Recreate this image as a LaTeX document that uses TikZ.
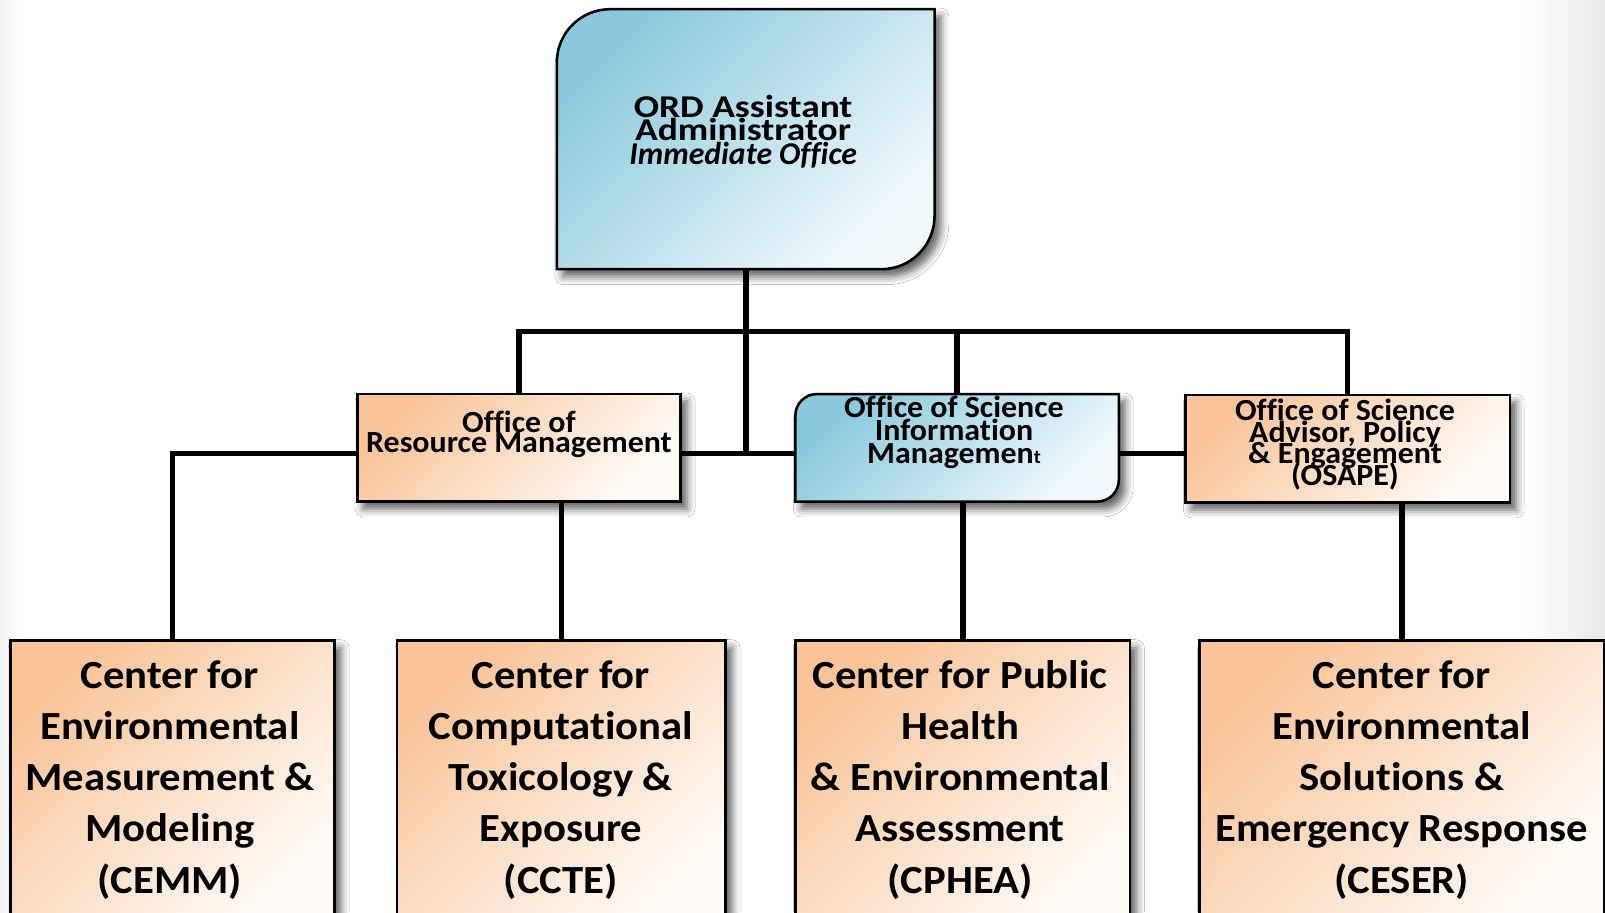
\documentclass[tikz,border=0pt]{standalone}
\usepackage{fontspec}
\setmainfont{Carlito}[Ligatures=NoCommon]
\newfontfamily\topfnt{Carlito}[FakeStretch=1.18,Ligatures=NoCommon]
\newfontfamily\midfnt{Carlito}[FakeStretch=1.04,Ligatures=NoCommon]
\newfontfamily\botfnt{Carlito}[FakeStretch=1.07,Ligatures=NoCommon]
\usetikzlibrary{shadows.blur,calc}
\definecolor{bluedark}{RGB}{138,201,221}
\definecolor{bluelight}{RGB}{242,249,252}
\definecolor{orgdark}{RGB}{249,196,153}
\definecolor{orglight}{RGB}{255,251,247}
\newcommand\firstrule{\rule{0pt}{40pt}}
\newcommand\diagroundbox[6]{%
  \path[#6] (#1,#2) -- (#1,#4-#5) arc[start angle=180,end angle=90,radius=#5 pt]
    -- (#3,#4) -- (#3,#2+#5) arc[start angle=0,end angle=-90,radius=#5 pt] -- cycle;}
\AtBeginDocument{\lineskiplimit=-100pt\relax}
\begin{document}
\begin{tikzpicture}[x=1pt,y=1pt,
  softshadow/.style={blur shadow={shadow xshift=6pt,shadow yshift=-7pt,shadow blur radius=8pt,shadow opacity=65}},
  bluefill/.style={draw=black,line width=2.5pt,top color=bluedark,bottom color=bluelight,shading angle=45,softshadow},
  orangebox/.style={rectangle,draw=black,line width=2.5pt,top color=orgdark,bottom color=orglight,shading angle=45,softshadow,inner sep=0pt,outer sep=0pt},
  anchorbox/.style={rectangle,draw=none,inner sep=0pt,outer sep=0pt},
  conn/.style={draw=black,line width=5.5pt},
  txt/.style={inner sep=0pt,outer sep=0pt,align=center,anchor=north},
  toptxt/.style={txt,font=\topfnt\fontsize{31}{23}\selectfont\bfseries},
  midtxt/.style={txt,font=\midfnt\fontsize{30}{#1}\selectfont\bfseries},
  bottxt/.style={txt,font=\botfnt\fontsize{39}{50}\selectfont\bfseries}
]
\useasboundingbox (0,0) rectangle (1568,891);
\clip (0,0) rectangle (1568,891);
\fill[white] (0,0) rectangle (1568,891);
\shade[left color=white,right color=black!9] (1488,0) rectangle (1568,891);
\shade[left color=black!5,right color=white] (0,0) rectangle (22,891);

% top box
\diagroundbox{544}{628}{913}{882}{52}{bluefill}
\node[anchorbox,minimum width=369pt,minimum height=254pt] (top) at (728.5,755) {};
\node[toptxt] (topT) at (726,816.4) {\firstrule ORD Assistant\\Administrator\\{\rmfamily\bfseries\itshape Immediate Office}};

% middle row
\node[orangebox,minimum width=316pt,minimum height=105pt] (orm) at (507,453.5) {};
\node[midtxt=19.5] (ormT) at (507,508) {\firstrule Office of\\Resource Management};

\diagroundbox{777}{401}{1093}{506}{21}{bluefill}
\node[anchorbox,minimum width=316pt,minimum height=105pt] (osim) at (935,453.5) {};
\node[midtxt=22.5] (osimT) at (932,523.3) {\firstrule Office of Science\\Information\\Managemen{\fontsize{19}{19}\selectfont t}};

\node[orangebox,minimum width=317pt,minimum height=105pt] (osape) at (1316.5,452.5) {};
\node[midtxt=21] (osapeT) at (1314,520) {\firstrule Office of Science\\Advisor, Policy\\\& Engagement\\(OSAPE)};

% bottom row
\node[orangebox,minimum width=317pt,minimum height=280pt] (cemm) at (168.5,125) {};
\node[orangebox,minimum width=321pt,minimum height=280pt] (ccte) at (548.5,125) {};
\node[orangebox,minimum width=327pt,minimum height=280pt] (cphea) at (940.5,125) {};
\node[orangebox,minimum width=395pt,minimum height=280pt] (ceser) at (1369.5,125) {};
\node[bottxt] (cemmT) at (166,258.5) {\firstrule Center for\\Environmental\\Measurement \&\\Modeling\\(CEMM)};
\node[bottxt] (ccteT) at (548,258.5) {\firstrule Center for\\Computational\\Toxicology \&\\Exposure\\(CCTE)};
\node[bottxt] (cpheaT) at (938,258.5) {\firstrule Center for Public\\Health\\\& Environmental\\Assessment\\(CPHEA)};
\node[bottxt] (ceserT) at (1369.5,258.5) {\firstrule Center for\\Environmental\\Solutions \&\\Emergency Response\\(CESER)};

% connectors
\coordinate (bus) at (0,567);
\coordinate (midline) at (0,448);
\draw[conn] (top.south) -- (top.south |- midline);
\draw[conn] (orm.north) -- (orm.north |- bus) -- (osape.north |- bus) -- (osape.north);
\draw[conn] (osim.north) -- (osim.north |- bus);
\draw[conn] (orm.east |- midline) -- (osim.west |- midline);
\draw[conn] (osim.east |- midline) -- (osape.west |- midline);
\draw[conn] (orm.west |- midline) -| (cemm.north);
\draw[conn] (ccte.north) -- (ccte.north |- orm.south);
\draw[conn] (cphea.north) -- (cphea.north |- osim.south);
\draw[conn] (ceser.north) -- (ceser.north |- osape.south);
\end{tikzpicture}
\end{document}
